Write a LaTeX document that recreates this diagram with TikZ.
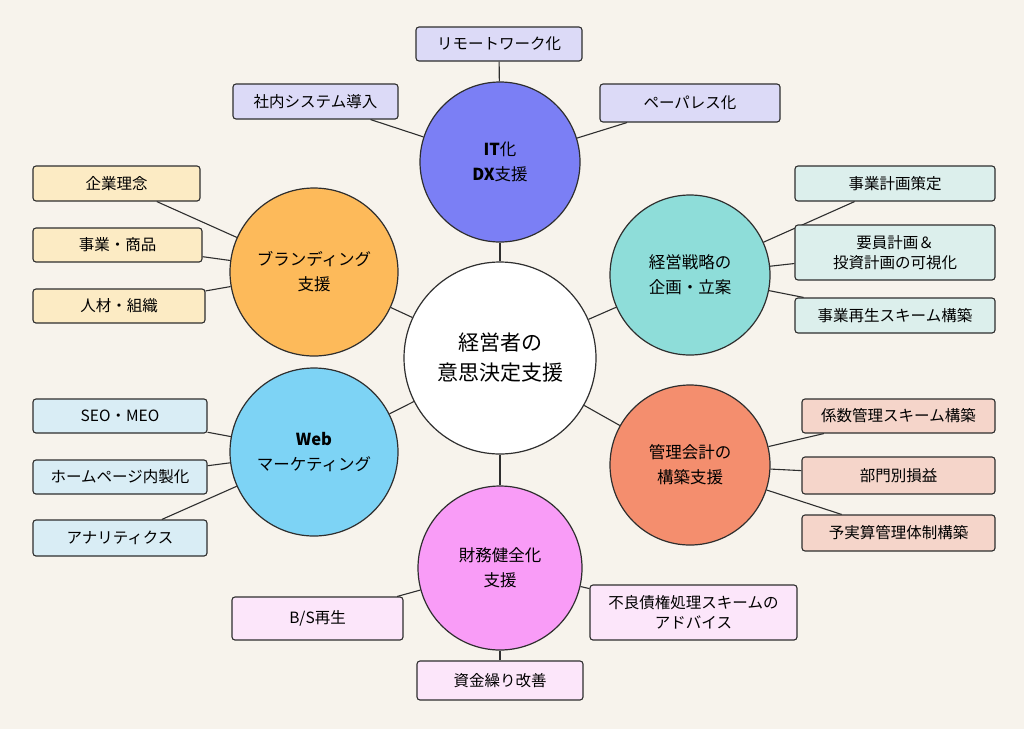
\documentclass[tikz,border=0pt]{standalone}
\usepackage{fontspec}
\setmainfont{Noto Sans CJK JP}
\definecolor{bg}{HTML}{F7F3EC}
\definecolor{ln}{HTML}{2E2E2E}
\definecolor{cIT}{HTML}{7B7FF5}\definecolor{bIT}{HTML}{DCDAF7}
\definecolor{cBR}{HTML}{FDBA5A}\definecolor{bBR}{HTML}{FCEBC4}
\definecolor{cWB}{HTML}{7DD3F5}\definecolor{bWB}{HTML}{D9EDF5}
\definecolor{cFN}{HTML}{F99CF7}\definecolor{bFN}{HTML}{FCE6FA}
\definecolor{cST}{HTML}{8EDDD9}\definecolor{bST}{HTML}{DCEFEC}
\definecolor{cAC}{HTML}{F48E6E}\definecolor{bAC}{HTML}{F5D5CA}
\begin{document}
\begin{tikzpicture}[x=1pt,y=-1pt,
  circ/.style={circle,draw=ln,line width=1.2pt,align=center,font=\fontsize{16.5}{25}\selectfont,inner sep=0pt},
  box/.style={draw=ln,line width=1.1pt,rounded corners=3pt,align=center,font=\fontsize{15.5}{20}\selectfont,inner sep=0pt},
  conn/.style={draw=ln,line width=1.1pt}]
\fill[bg] (0,0) rectangle (1024,729);
\useasboundingbox (0,0) rectangle (1024,729);
% circles
\node[circ,fill=white,minimum size=192pt,font=\fontsize{21}{30}\selectfont] (C) at (500,358) {経営者の\\意思決定支援};
\node[circ,fill=cIT,minimum size=160pt] (IT) at (500,162) {\textbf{IT}化\\\textbf{DX}支援};
\node[circ,fill=cBR,minimum size=168pt] (BR) at (314,272) {ブランディング\\支援};
\node[circ,fill=cWB,minimum size=168pt] (WB) at (314,452) {\textbf{Web}\\マーケティング};
\node[circ,fill=cFN,minimum size=164pt] (FN) at (500,568) {財務健全化\\支援};
\node[circ,fill=cST,minimum size=160pt] (ST) at (690,275) {経営戦略の\\企画・立案};
\node[circ,fill=cAC,minimum size=160pt] (AC) at (690,465) {管理会計の\\構築支援};
\foreach \n in {IT,BR,WB,FN,ST,AC} \draw[conn] (C) -- (\n);
% boxes
\newcommand\bx[8]{\node[box,fill=#1,minimum width=#4pt-#2pt,minimum height=#5pt-#3pt] (#6) at ({(#2+#4)/2},{(#3+#5)/2}) {#7}; \draw[conn] (#6) -- (#8);}
\bx{bIT}{416}{27}{582}{61}{i1}{リモートワーク化}{IT}
\bx{bIT}{233}{84}{398}{119}{i2}{社内システム導入}{IT}
\bx{bIT}{600}{84}{780}{122}{i3}{ペーパレス化}{IT}
\bx{bBR}{33}{166}{200}{201}{b1}{企業理念}{BR}
\bx{bBR}{33}{228}{202}{262}{b2}{事業・商品}{BR}
\bx{bBR}{33}{289}{205}{323}{b3}{人材・組織}{BR}
\bx{bWB}{33}{399}{207}{433}{w1}{SEO・MEO}{WB}
\bx{bWB}{33}{460}{207}{494}{w2}{ホームページ内製化}{WB}
\bx{bWB}{33}{520}{207}{556}{w3}{アナリティクス}{WB}
\bx{bST}{795}{166}{995}{201}{s1}{事業計画策定}{ST}
\bx{bST}{795}{225}{995}{280}{s2}{要員計画＆\\投資計画の可視化}{ST}
\bx{bST}{795}{298}{995}{333}{s3}{事業再生スキーム構築}{ST}
\bx{bAC}{802}{399}{995}{433}{a1}{係数管理スキーム構築}{AC}
\bx{bAC}{802}{457}{995}{494}{a2}{部門別損益}{AC}
\bx{bAC}{802}{515}{995}{551}{a3}{予実算管理体制構築}{AC}
\bx{bFN}{232}{597}{403}{640}{f1}{B/S再生}{FN}
\bx{bFN}{590}{585}{797}{640}{f2}{不良債権処理スキームの\\アドバイス}{FN}
\bx{bFN}{417}{661}{583}{700}{f3}{資金繰り改善}{FN}
\end{tikzpicture}
\end{document}
